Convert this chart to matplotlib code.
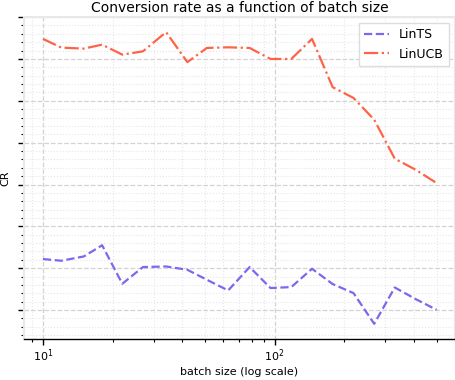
import matplotlib
matplotlib.use("Agg")
import matplotlib.pyplot as plt
from matplotlib.ticker import AutoMinorLocator, NullFormatter

batch_sizes = [10, 12, 15, 18, 22, 27, 34, 42, 51, 63, 78, 96, 118, 145, 178, 219, 269, 330, 406, 500]
lints_cr = [3.219, 3.179, 3.281, 3.549, 2.629, 3.028, 3.042, 2.963, 2.724, 2.469,
            3.028, 2.526, 2.550, 2.987, 2.622, 2.406, 1.672, 2.540, 2.263, 2.007]
linucb_cr = [8.479, 8.271, 8.247, 8.342, 8.103, 8.182, 8.641, 7.924, 8.263, 8.278,
             8.263, 8.000, 8.000, 8.479, 7.326, 7.068, 6.549, 5.617, 5.354, 5.036]

fig = plt.figure(figsize=(4.56, 3.8), dpi=100)
ax = fig.add_axes([0.0526, 0.108, 0.945, 0.847])

ax.plot(batch_sizes, lints_cr, linestyle='--', color='#7b68ee', linewidth=1.6, label='LinTS')
ax.plot(batch_sizes, linucb_cr, linestyle='-.', color='#ff6347', linewidth=1.6, label='LinUCB')

ax.set_xscale('log')
ax.set_xlim(8.28, 600)
ax.set_ylim(1.31, 9.0)
ax.yaxis.set_minor_locator(AutoMinorLocator(5))
ax.yaxis.set_major_formatter(NullFormatter())
ax.yaxis.set_minor_formatter(NullFormatter())
ax.xaxis.set_minor_formatter(NullFormatter())

ax.grid(True, which='major', linestyle='--', color='#d3d3d3', linewidth=0.9)
ax.grid(True, which='minor', linestyle=':', color='#e6e6e6', linewidth=0.8)
ax.set_axisbelow(True)

for side in ['left', 'top', 'right']:
    ax.spines[side].set_color('#e8e8e8')
    ax.spines[side].set_linewidth(1.5)
ax.spines['bottom'].set_color('black')
ax.spines['bottom'].set_linewidth(1.0)

ax.tick_params(axis='both', which='major', length=4, width=1, labelsize=8)
ax.tick_params(axis='x', which='major', pad=2)
ax.tick_params(axis='both', which='minor', length=2.5, width=0.8)

ax.set_title('Conversion rate as a function of batch size', fontsize=10, pad=4)
ax.set_xlabel('batch size (log scale)', fontsize=8, labelpad=2)
ax.set_ylabel('CR', fontsize=8, labelpad=2)

ax.legend(loc='upper right', fontsize=9, frameon=True, fancybox=False, edgecolor='#dddddd', framealpha=1)

fig.savefig('out.png', dpi=100)
